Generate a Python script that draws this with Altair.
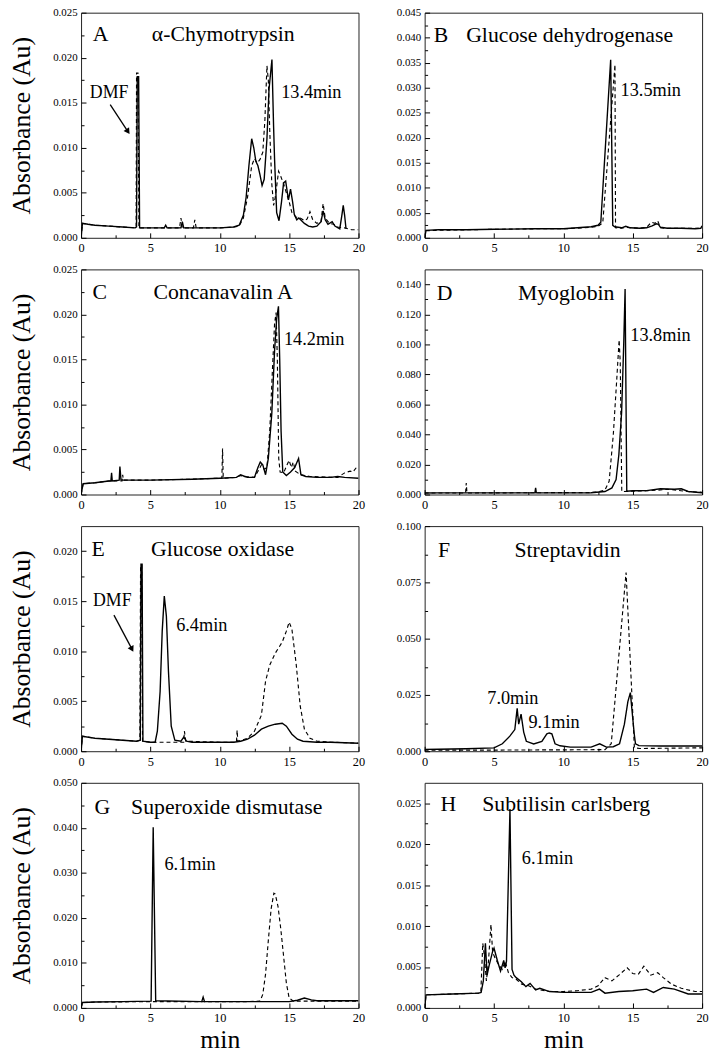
import altair as alt
import pandas as pd

FONT = "Liberation Serif"

# ---------------- data: (time in min, absorbance in Au) ----------------
A_solid = [(0.0, 0.0), (0.1, 0.0016), (0.5, 0.0015), (1.0, 0.0014), (2.0, 0.0013), (3.0, 0.0012),
           (3.9, 0.0011), (4.0, 0.0012), (4.05, 0.0179), (4.15, 0.0179), (4.22, 0.0011), (5.0, 0.0011),
           (6.0, 0.0011), (6.1, 0.0014), (6.2, 0.0011), (7.2, 0.0011), (7.3, 0.0018), (7.4, 0.0011),
           (9.0, 0.0011), (10.0, 0.0011), (11.0, 0.0012), (11.4, 0.0014), (11.7, 0.0025), (11.9, 0.0045),
           (12.1, 0.0080), (12.3, 0.0110), (12.45, 0.0100), (12.6, 0.0085), (12.75, 0.0080), (12.9, 0.0070),
           (13.05, 0.0058), (13.2, 0.0065), (13.4, 0.0110), (13.55, 0.0165), (13.76, 0.0198), (13.88, 0.0123),
           (13.95, 0.0087), (14.1, 0.0028), (14.27, 0.0019), (14.45, 0.0040), (14.6, 0.0061), (14.75, 0.0063),
           (14.95, 0.0042), (15.1, 0.0054), (15.25, 0.0040), (15.37, 0.0026), (15.55, 0.0020), (15.7, 0.0022),
           (15.9, 0.0019), (16.1, 0.0016), (16.4, 0.0013), (16.7, 0.0012), (17.0, 0.0013), (17.3, 0.0018),
           (17.45, 0.0030), (17.6, 0.0020), (17.8, 0.0015), (18.1, 0.0018), (18.3, 0.0013), (18.65, 0.0010),
           (18.8, 0.0025), (18.9, 0.0036), (19.0, 0.0025), (19.1, 0.0010)]
A_dash = [(0.0, 0.0), (0.1, 0.0016), (1.0, 0.0014), (2.0, 0.0013), (3.0, 0.0012), (3.9, 0.0011),
          (3.97, 0.0012), (4.0, 0.0183), (4.1, 0.0183), (4.17, 0.0011), (5.0, 0.0011), (7.1, 0.0011),
          (7.2, 0.0022), (7.3, 0.0011), (8.1, 0.0011), (8.2, 0.0020), (8.3, 0.0011), (10.0, 0.0011),
          (11.0, 0.0012), (11.4, 0.0013), (11.7, 0.0022), (12.0, 0.0045), (12.3, 0.0080), (12.5, 0.0088),
          (12.7, 0.0083), (12.9, 0.0087), (13.1, 0.0095), (13.25, 0.0130), (13.4, 0.0191), (13.5, 0.0175),
          (13.6, 0.0120), (13.75, 0.0060), (13.88, 0.0036), (14.0, 0.0045), (14.24, 0.0074), (14.4, 0.0068),
          (14.6, 0.0060), (14.8, 0.0050), (15.0, 0.0040), (15.2, 0.0028), (15.5, 0.0023), (15.8, 0.0022),
          (16.1, 0.0019), (16.3, 0.0021), (16.5, 0.0029), (16.7, 0.0020), (17.0, 0.0016), (17.3, 0.0018),
          (17.45, 0.0038), (17.6, 0.0022), (17.9, 0.0016), (18.2, 0.0015), (18.5, 0.0012), (19.0, 0.0011),
          (19.5, 0.0009), (20.0, 0.0009)]

B_solid = [(0.0, 0.0), (0.1, 0.0015), (1.0, 0.0016), (3.0, 0.0016), (5.0, 0.0017), (8.0, 0.0018),
           (10.0, 0.0018), (11.5, 0.0021), (12.0, 0.0022), (12.5, 0.0025), (12.7, 0.0031), (13.41, 0.0356),
           (13.56, 0.0025), (13.7, 0.0022), (14.2, 0.0020), (14.5, 0.0023), (14.8, 0.0020), (15.5, 0.0019),
           (16.0, 0.0020), (16.4, 0.0024), (16.7, 0.0028), (16.85, 0.0027), (17.0, 0.0021), (17.5, 0.0019),
           (18.5, 0.0019), (19.5, 0.0018), (19.9, 0.0019), (20.0, 0.0024)]
B_dash = [(0.0, 0.0), (0.1, 0.0014), (1.0, 0.0015), (3.0, 0.0016), (5.0, 0.0017), (8.0, 0.0018),
          (10.0, 0.0018), (11.5, 0.0020), (12.0, 0.0021), (12.5, 0.0023), (12.84, 0.0030), (13.72, 0.0346),
          (13.76, 0.0020), (14.2, 0.0019), (14.5, 0.0021), (15.5, 0.0019), (16.0, 0.0021), (16.35, 0.0031),
          (16.6, 0.0029), (16.8, 0.0034), (17.0, 0.0020), (17.5, 0.0019), (19.0, 0.0019), (20.0, 0.0019)]

C_solid = [(0.0, 0.0), (0.15, 0.0012), (1.0, 0.0013), (2.0, 0.0015), (2.15, 0.0015), (2.2, 0.0024),
           (2.25, 0.0015), (2.75, 0.0016), (2.8, 0.0031), (2.88, 0.0016), (5.0, 0.0016), (8.0, 0.0017),
           (10.0, 0.0018), (11.2, 0.0019), (11.5, 0.0022), (11.8, 0.0020), (12.0, 0.0019), (12.5, 0.0019),
           (12.75, 0.0030), (12.92, 0.0036), (13.1, 0.0033), (13.3, 0.0022), (13.5, 0.0040), (13.75, 0.0090),
           (13.95, 0.0160), (14.1, 0.0195), (14.23, 0.0209), (14.32, 0.0150), (14.42, 0.0070), (14.54, 0.0025),
           (14.8, 0.0021), (15.1, 0.0025), (15.4, 0.0030), (15.68, 0.0040), (15.85, 0.0022), (16.2, 0.0020),
           (17.0, 0.0019), (18.0, 0.0019), (18.5, 0.0020), (19.0, 0.0019), (20.0, 0.0018)]
C_dash = [(0.0, 0.0), (0.15, 0.0012), (1.0, 0.0013), (2.0, 0.0015), (2.95, 0.0015), (3.0, 0.0022),
          (3.05, 0.0016), (5.0, 0.0016), (8.0, 0.0017), (9.6, 0.0018), (10.15, 0.0018), (10.2, 0.0051),
          (10.25, 0.0018), (11.2, 0.0019), (11.5, 0.0021), (11.9, 0.0020), (12.5, 0.0019), (12.8, 0.0027),
          (13.0, 0.0033), (13.2, 0.0028), (13.4, 0.0030), (13.6, 0.0070), (13.8, 0.0140), (13.95, 0.0190),
          (14.06, 0.0202), (14.15, 0.0150), (14.25, 0.0040), (14.35, 0.0025), (14.6, 0.0024), (14.85, 0.0033),
          (15.0, 0.0038), (15.15, 0.0030), (15.3, 0.0036), (15.45, 0.0026), (15.8, 0.0022), (16.5, 0.0020),
          (18.5, 0.0019), (19.0, 0.0024), (19.4, 0.0026), (19.6, 0.0025), (19.85, 0.0030), (20.0, 0.0028)]

D_solid = [(0.0, 0.0010), (1.0, 0.0011), (5.0, 0.0011), (7.95, 0.0011), (8.0, 0.0044), (8.05, 0.0011),
           (12.0, 0.0012), (13.0, 0.0020), (13.5, 0.0044), (13.8, 0.0100), (14.0, 0.0265), (14.2, 0.0550),
           (14.35, 0.1000), (14.45, 0.1370), (14.57, 0.0022), (15.0, 0.0025), (16.0, 0.0026), (17.0, 0.0038),
           (18.0, 0.0035), (18.5, 0.0038), (19.0, 0.0020), (20.0, 0.0012)]
D_dash = [(0.0, 0.0010), (2.95, 0.0010), (3.0, 0.0077), (3.05, 0.0010), (5.0, 0.0011), (12.0, 0.0013),
          (12.5, 0.0018), (13.0, 0.0030), (13.3, 0.0088), (13.6, 0.0400), (13.85, 0.0770), (14.02, 0.1030),
          (14.1, 0.0880), (14.21, 0.0020), (15.0, 0.0022), (16.0, 0.0025), (17.0, 0.0030), (17.5, 0.0035),
          (18.0, 0.0030), (19.0, 0.0020), (20.0, 0.0015)]

E_solid = [(0.0, 0.0), (0.1, 0.0015), (1.0, 0.0013), (2.0, 0.0012), (3.0, 0.0011), (4.0, 0.0010),
           (4.27, 0.0011), (4.32, 0.0187), (4.4, 0.0187), (4.46, 0.0010), (5.0, 0.0009), (5.34, 0.0009),
           (5.5, 0.0020), (5.7, 0.0060), (5.85, 0.0120), (6.0, 0.0155), (6.15, 0.0135), (6.3, 0.0080),
           (6.5, 0.0025), (6.76, 0.0011), (7.2, 0.0010), (7.4, 0.0014), (7.6, 0.0010), (8.0, 0.0009),
           (10.0, 0.0009), (11.0, 0.0009), (11.5, 0.0010), (12.0, 0.0012), (12.5, 0.0016), (13.0, 0.0022),
           (13.5, 0.0025), (14.0, 0.0027), (14.5, 0.0028), (14.8, 0.0025), (15.2, 0.0017), (15.6, 0.0012),
           (16.0, 0.0010), (17.0, 0.0009), (18.0, 0.0009), (20.0, 0.0008)]
E_dash = [(0.0, 0.0), (0.1, 0.0015), (1.0, 0.0013), (2.0, 0.0012), (3.0, 0.0011), (4.0, 0.0010),
          (4.24, 0.0011), (4.29, 0.0186), (4.37, 0.0186), (4.43, 0.0010), (5.0, 0.0009), (7.4, 0.0009),
          (7.45, 0.0020), (7.55, 0.0010), (10.0, 0.0009), (11.2, 0.0009), (11.25, 0.0021), (11.3, 0.0010),
          (11.6, 0.0011), (12.0, 0.0013), (12.5, 0.0020), (13.0, 0.0036), (13.3, 0.0070), (13.6, 0.0086),
          (14.0, 0.0098), (14.5, 0.0109), (14.8, 0.0120), (15.0, 0.0129), (15.2, 0.0122), (15.5, 0.0088),
          (15.8, 0.0045), (16.1, 0.0022), (16.5, 0.0013), (17.0, 0.0010), (18.0, 0.0009), (20.0, 0.0008)]

F_solid = [(0.0, 0.0008), (1.0, 0.0009), (3.0, 0.0011), (5.0, 0.0015), (5.6, 0.0033), (6.14, 0.0067),
           (6.5, 0.0096), (6.58, 0.0140), (6.67, 0.0190), (6.78, 0.0120), (6.95, 0.0165), (7.14, 0.0085),
           (7.33, 0.0044), (7.86, 0.0032), (8.45, 0.0044), (8.81, 0.0077), (8.98, 0.0081), (9.17, 0.0077),
           (9.4, 0.0033), (9.76, 0.0024), (10.5, 0.0018), (12.0, 0.0018), (12.62, 0.0033), (13.1, 0.0018),
           (13.6, 0.0020), (14.05, 0.0033), (14.4, 0.0120), (14.65, 0.0220), (14.83, 0.0260), (14.95, 0.0180),
           (15.12, 0.0070), (15.2, 0.0033), (15.45, 0.0025), (17.0, 0.0023), (20.0, 0.0023)]
F_dash = [(0.0, 0.0005), (5.0, 0.0005), (10.0, 0.0006), (13.0, 0.0007), (13.45, 0.0033), (14.52, 0.0794),
          (15.12, 0.0015), (15.5, 0.0012), (17.0, 0.0013), (20.0, 0.0015)]

G_solid = [(0.0, 0.0), (0.1, 0.0012), (1.0, 0.0013), (3.0, 0.0014), (5.05, 0.0015), (5.2, 0.0401),
           (5.38, 0.0016), (8.7, 0.0014), (8.8, 0.0024), (8.9, 0.0014), (12.0, 0.0014), (15.0, 0.0014),
           (15.6, 0.0017), (16.1, 0.0022), (16.6, 0.0018), (17.0, 0.0016), (20.0, 0.0016)]
G_dash = [(0.0, 0.0), (0.1, 0.0012), (1.0, 0.0013), (5.0, 0.0014), (12.0, 0.0014), (12.9, 0.0015),
          (13.1, 0.0030), (13.3, 0.0075), (13.5, 0.0150), (13.7, 0.0220), (13.9, 0.0255), (14.0, 0.0253),
          (14.2, 0.0225), (14.4, 0.0175), (14.6, 0.0115), (14.8, 0.0055), (15.0, 0.0022), (15.3, 0.0015),
          (20.0, 0.0015)]

H_solid = [(0.0, 0.0), (0.1, 0.0016), (2.0, 0.0017), (3.9, 0.0018), (4.07, 0.0019), (4.23, 0.0033),
           (4.38, 0.0079), (4.5, 0.0040), (4.65, 0.0052), (4.9, 0.0069), (5.0, 0.0073), (5.24, 0.0058),
           (5.47, 0.0045), (5.7, 0.0058), (5.8, 0.0049), (5.9, 0.0057), (6.15, 0.0243), (6.3, 0.0047),
           (6.44, 0.0040), (6.6, 0.0037), (6.97, 0.0032), (7.3, 0.0026), (7.6, 0.0030), (8.0, 0.0022),
           (8.3, 0.0024), (9.0, 0.0020), (10.0, 0.0019), (12.0, 0.0019), (12.6, 0.0023), (13.0, 0.0018),
           (14.0, 0.0020), (15.0, 0.0021), (16.0, 0.0023), (16.5, 0.0019), (17.2, 0.0025), (18.0, 0.0023),
           (19.0, 0.0017), (20.0, 0.0017)]
H_dash = [(0.0, 0.0), (0.1, 0.0016), (2.0, 0.0017), (3.9, 0.0018), (4.05, 0.0019), (4.19, 0.0079),
          (4.3, 0.0064), (4.45, 0.0033), (4.6, 0.0057), (4.78, 0.0102), (4.9, 0.0068), (5.1, 0.0060),
          (5.36, 0.0052), (5.6, 0.0047), (5.8, 0.0057), (6.04, 0.0043), (6.3, 0.0037), (6.6, 0.0035),
          (7.0, 0.0029), (7.5, 0.0027), (8.0, 0.0023), (9.0, 0.0020), (10.0, 0.0020), (11.0, 0.0021),
          (12.0, 0.0023), (12.5, 0.0027), (13.0, 0.0037), (13.5, 0.0033), (14.0, 0.0040), (14.6, 0.0049),
          (15.0, 0.0042), (15.4, 0.0041), (15.8, 0.0051), (16.3, 0.0040), (16.8, 0.0043), (17.2, 0.0037),
          (17.8, 0.0029), (18.5, 0.0024), (19.5, 0.0020), (20.0, 0.0020)]

# ---------------- tick values (major = labelled, minor = short ticks) ----------------
X_MAJOR = [0, 5, 10, 15, 20]
X_MINOR = [2.5, 7.5, 12.5, 17.5]
Y_MAJOR_025 = [0, 0.005, 0.01, 0.015, 0.02, 0.025]
Y_MINOR_025 = [0.0025, 0.0075, 0.0125, 0.0175, 0.0225]
Y_MAJOR_045 = [0, 0.005, 0.01, 0.015, 0.02, 0.025, 0.03, 0.035, 0.04, 0.045]
Y_MINOR_045 = [0.0025, 0.0075, 0.0125, 0.0175, 0.0225, 0.0275, 0.0325, 0.0375, 0.0425]
Y_MAJOR_140 = [0, 0.02, 0.04, 0.06, 0.08, 0.1, 0.12, 0.14]
Y_MINOR_140 = [0.01, 0.03, 0.05, 0.07, 0.09, 0.11, 0.13]
Y_MAJOR_020 = [0, 0.005, 0.01, 0.015, 0.02]
Y_MINOR_020 = [0.0025, 0.0075, 0.0125, 0.0175]
Y_MAJOR_100 = [0, 0.025, 0.05, 0.075, 0.1]
Y_MINOR_100 = [0.0125, 0.0375, 0.0625, 0.0875]
Y_MAJOR_050 = [0, 0.01, 0.02, 0.03, 0.04, 0.05]
Y_MINOR_050 = [0.005, 0.015, 0.025, 0.035, 0.045]
Y_MINOR_H = [0.0025, 0.0075, 0.0125, 0.0175, 0.0225]

# ---------------- annotations: (time, absorbance, text, font size) ----------------
A_text = [(1.4, 0.0226, "A", 22), (10.25, 0.0226, "α-Chymotrypsin", 22),
          (16.6, 0.0162, "13.4min", 18.5), (2.02, 0.0161, "DMF", 18)]
B_text = [(1.18, 0.0406, "B", 22), (10.45, 0.0406, "Glucose dehydrogenase", 22),
          (16.3, 0.0296, "13.5min", 18.5)]
C_text = [(1.35, 0.0225, "C", 22), (10.24, 0.0225, "Concanavalin A", 22),
          (16.8, 0.0173, "14.2min", 18.5)]
D_text = [(1.43, 0.1345, "D", 22), (10.2, 0.1345, "Myoglobin", 22),
          (17.0, 0.1062, "13.8min", 18.5)]
E_text = [(1.23, 0.0202, "E", 22), (10.2, 0.0202, "Glucose oxidase", 22),
          (2.25, 0.0150, "DMF", 18), (8.7, 0.0126, "6.4min", 18.5)]
F_text = [(1.4, 0.0892, "F", 22), (10.3, 0.0892, "Streptavidin", 22),
          (6.36, 0.0235, "7.0min", 18.5), (9.33, 0.0128, "9.1min", 18.5)]
G_text = [(1.54, 0.0445, "G", 22), (10.5, 0.0445, "Superoxide dismutase", 22),
          (7.86, 0.0319, "6.1min", 18.5)]
H_text = [(1.7, 0.0249, "H", 22), (10.2, 0.0249, "Subtilisin carlsberg", 22),
          (8.85, 0.0183, "6.1min", 18.5)]

# arrows: start (t, v) -> end (t2, v2)
A_arrow = [(2.1, 0.0148, 3.38, 0.0118)]
E_arrow = [(2.37, 0.0136, 3.67, 0.0102)]


def build(solid, dash, ydom, ymajor, yminor, texts, arrow=None, arrow_angle=0,
          left=False, bottom=False):
    xs = alt.Scale(domain=[0, 20], nice=False, zero=False)
    ys = alt.Scale(domain=ydom, nice=False, zero=False)
    # major axes: pulled 5px inside the frame so the ticks point inward
    x_major = alt.Axis(values=X_MAJOR, format="d", orient="bottom", offset=-5, tickSize=5,
                       domain=False, grid=False, labelPadding=4, labelFontSize=12.5,
                       labelOverlap=False, labelFlush=False,
                       title="min" if bottom else None, titleFontSize=26, titlePadding=3)
    y_major = alt.Axis(values=ymajor, format=".3f", orient="left", offset=-5, tickSize=5,
                       domain=False, grid=False, labelPadding=4, labelFontSize=11,
                       labelOverlap=False, labelFlush=False,
                       title="Absorbance (Au)" if left else None, titleFontSize=26, titlePadding=18)
    x_minor = alt.Axis(values=X_MINOR, orient="bottom", offset=-3, tickSize=3, labels=False,
                       domain=False, grid=False, title=None)
    y_minor = alt.Axis(values=yminor, orient="left", offset=-3, tickSize=3, labels=False,
                       domain=False, grid=False, title=None)

    sdf = pd.DataFrame(solid, columns=["t", "v"])
    ddf = pd.DataFrame(dash, columns=["t", "v"])
    tdf = pd.DataFrame(texts, columns=["t", "v", "label", "fs"])

    nx = alt.X("t:Q", scale=xs, axis=None)
    ny = alt.Y("v:Q", scale=ys, axis=None)

    layers = [
        alt.Chart(sdf).mark_line(color="black", strokeWidth=1.4, clip=True).encode(
            x=alt.X("t:Q", scale=xs, axis=x_major), y=alt.Y("v:Q", scale=ys, axis=y_major)),
        alt.Chart(ddf).mark_line(color="black", strokeWidth=1.15, strokeDash=[4, 3], clip=True).encode(
            x=alt.X("t:Q", scale=xs, axis=x_minor), y=alt.Y("v:Q", scale=ys, axis=y_minor)),
        alt.Chart(tdf).mark_text(font=FONT, color="black", align="center", baseline="middle").encode(
            x=nx, y=ny, text="label:N", size=alt.Size("fs:Q", scale=None)),
    ]
    if arrow:
        adf = pd.DataFrame(arrow, columns=["t", "v", "t2", "v2"])
        layers.append(alt.Chart(adf).mark_rule(color="black", strokeWidth=1.3).encode(
            x=nx, y=ny, x2="t2:Q", y2="v2:Q"))
        layers.append(alt.Chart(adf).mark_point(shape="triangle-up", filled=True, color="black",
                                                size=45, opacity=1, angle=arrow_angle).encode(
            x=alt.X("t2:Q", scale=xs, axis=None), y=alt.Y("v2:Q", scale=ys, axis=None)))
    return alt.layer(*layers).resolve_axis(x="independent", y="independent").properties(
        width=281, height=228)


panels = [
    build(A_solid, A_dash, [0, 0.025], Y_MAJOR_025, Y_MINOR_025, A_text, A_arrow, 146, left=True),
    build(B_solid, B_dash, [0, 0.045], Y_MAJOR_045, Y_MINOR_045, B_text),
    build(C_solid, C_dash, [0, 0.025], Y_MAJOR_025, Y_MINOR_025, C_text, left=True),
    build(D_solid, D_dash, [0, 0.15], Y_MAJOR_140, Y_MINOR_140, D_text),
    build(E_solid, E_dash, [0, 0.0225], Y_MAJOR_020, Y_MINOR_020, E_text, E_arrow, 152, left=True),
    build(F_solid, F_dash, [0, 0.1], Y_MAJOR_100, Y_MINOR_100, F_text),
    build(G_solid, G_dash, [0, 0.05], Y_MAJOR_050, Y_MINOR_050, G_text, left=True, bottom=True),
    build(H_solid, H_dash, [0, 0.0275], Y_MAJOR_025, Y_MINOR_H, H_text, bottom=True),
]

chart = alt.concat(*panels, columns=2, spacing={"row": 32, "column": 67}, bounds="flush").properties(
    padding={"left": 0, "top": -9, "right": 0, "bottom": 0}
).configure_view(
    stroke="#222", strokeWidth=1
).configure_axis(
    labelFont=FONT, titleFont=FONT, labelColor="black", titleColor="black",
    tickColor="black", titleFontWeight="normal"
)

chart.save("out.html", embed_options={"renderer": "svg", "actions": False})
